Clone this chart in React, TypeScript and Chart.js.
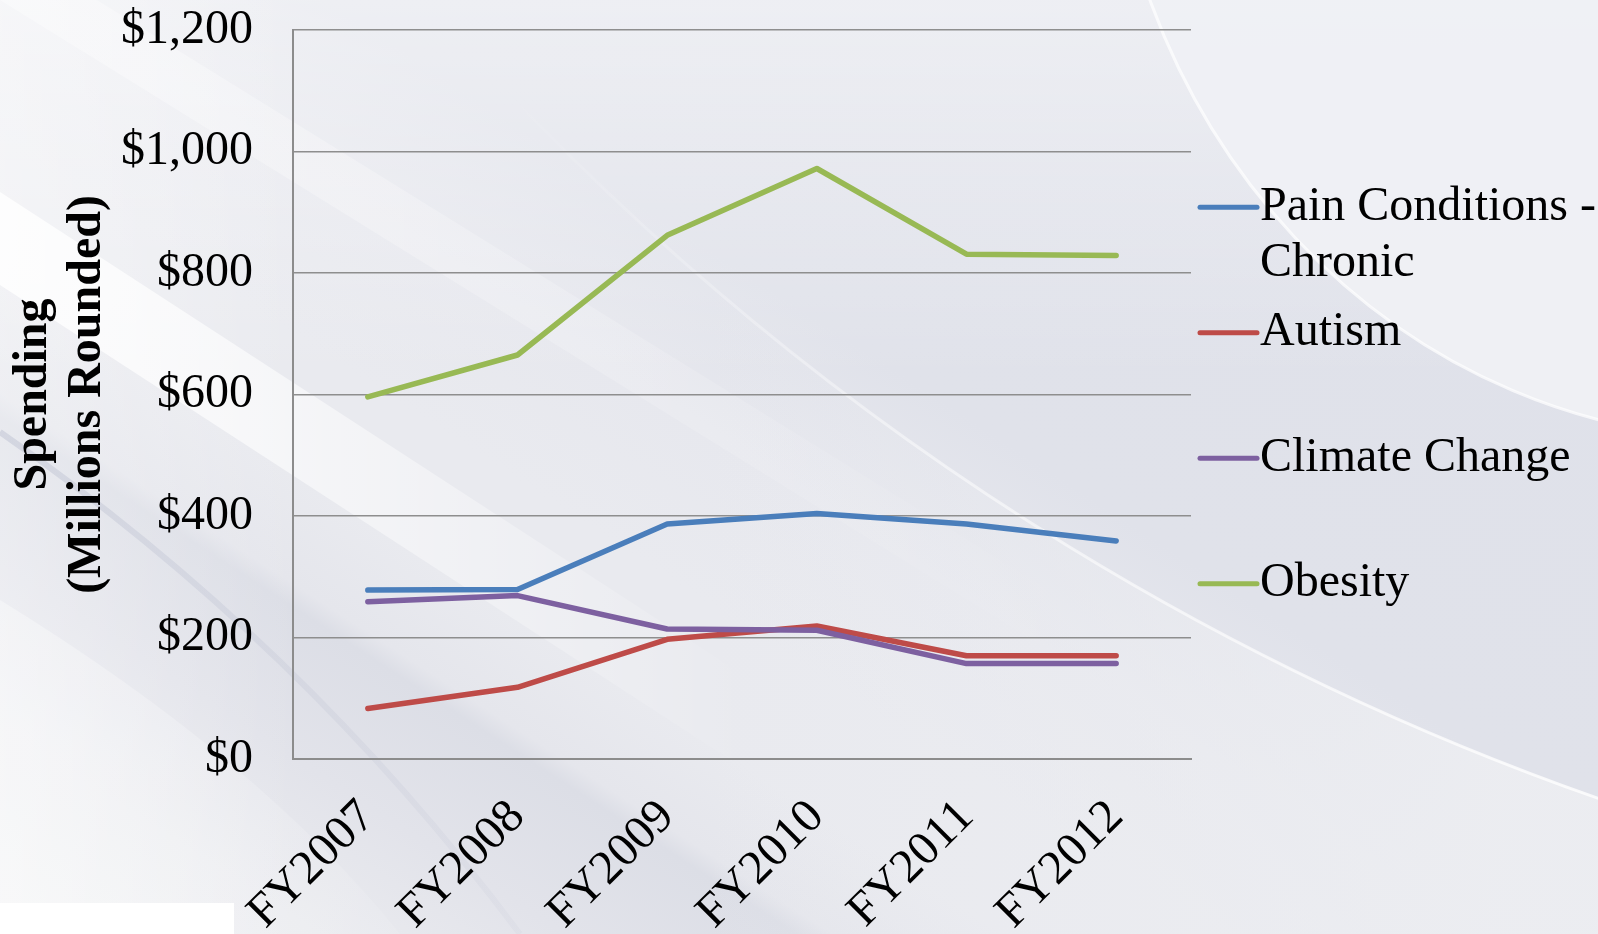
import React, { useEffect, useRef } from "react";
import { Chart, registerables } from "chart.js";

Chart.register(...registerables);

const categories = ["FY2007", "FY2008", "FY2009", "FY2010", "FY2011", "FY2012"];
const seriesNames = ["Pain Conditions - Chronic", "Autism", "Climate Change", "Obesity"];
const legendLines = [["Pain Conditions -", "Chronic"], ["Autism"], ["Climate Change"], ["Obesity"]];
const painChronic = [278, 279, 387, 404, 387, 359];
const autism = [83, 118, 197, 219, 170, 170];
const climateChange = [259, 269, 214, 212, 157, 157];
const obesity = [596, 665, 862, 972, 831, 829];
const seriesColors = ["#4a7ebb", "#be4b48", "#7d60a0", "#98b954"];
const yMin = 0;
const yMax = 1200;
const yStep = 200;
const yTitle = ["Spending", "(Millions Rounded)"];

const FONT = "'Liberation Serif', 'Times New Roman', serif";
const FS = 48;
const W = 1598;
const H = 934;

// decorative slide background, drawn under the chart
const slideBackground = {
  id: "slideBackground",
  beforeDraw(chart: any) {
    const ctx = chart.ctx as CanvasRenderingContext2D;
    ctx.save();
    const nx = 0.545, ny = 0.839, L = 1655;
    const g = ctx.createLinearGradient(0, H, nx * L, H - ny * L);
    g.addColorStop(0.0, "#eff0f2");
    g.addColorStop(0.105, "#eaebef");
    g.addColorStop(0.186, "#e2e3ea");
    g.addColorStop(0.262, "#dcdee6");
    g.addColorStop(0.274, "#e5e6ec");
    g.addColorStop(0.33, "#e9eaef");
    g.addColorStop(0.40, "#e9eaef");
    g.addColorStop(0.49, "#e7e8ee");
    g.addColorStop(0.58, "#e0e2ea");
    g.addColorStop(1.0, "#dfe1ea");
    ctx.fillStyle = g;
    ctx.fillRect(0, 0, W, H);

    const v = ctx.createLinearGradient(0, 0, 0, 380);
    v.addColorStop(0, "rgba(255,255,255,0.45)");
    v.addColorStop(1, "rgba(255,255,255,0)");
    ctx.fillStyle = v;
    ctx.fillRect(0, 0, W, 380);

    const hl = ctx.createLinearGradient(0, 0, 300, 0);
    hl.addColorStop(0, "rgba(255,255,255,0.35)");
    hl.addColorStop(1, "rgba(255,255,255,0)");
    ctx.fillStyle = hl;
    ctx.fillRect(0, 0, 300, H);

    const band = (y0: number, y1: number, slope: number, a0: number, fadeEnd: number) => {
      const fg = ctx.createLinearGradient(0, 0, fadeEnd, 0);
      fg.addColorStop(0, `rgba(255,255,255,${a0})`);
      fg.addColorStop(0.35, `rgba(255,255,255,${a0 * 0.7})`);
      fg.addColorStop(1, "rgba(255,255,255,0)");
      ctx.fillStyle = fg;
      ctx.beginPath();
      ctx.moveTo(0, y0);
      ctx.lineTo(fadeEnd, y0 + slope * fadeEnd);
      ctx.lineTo(fadeEnd, y1 + slope * fadeEnd);
      ctx.lineTo(0, y1);
      ctx.closePath();
      ctx.fill();
    };
    band(192, 285, 0.65, 0.85, 750);
    band(-60, 0, 0.62, 0.35, 1100);

    const dg = ctx.createLinearGradient(0, 0, 700, 0);
    dg.addColorStop(0, "rgba(190,194,210,0.5)");
    dg.addColorStop(1, "rgba(190,194,210,0)");
    ctx.strokeStyle = dg;
    ctx.lineWidth = 6;
    ctx.beginPath();
    ctx.moveTo(0, 432);
    ctx.quadraticCurveTo(300, 640, 520, H);
    ctx.stroke();

    const bl = ctx.createLinearGradient(0, 0, 520, 0);
    bl.addColorStop(0, "rgba(255,255,255,0.35)");
    bl.addColorStop(1, "rgba(255,255,255,0)");
    ctx.fillStyle = bl;
    ctx.beginPath();
    ctx.moveTo(0, 600);
    ctx.quadraticCurveTo(260, 760, 400, H);
    ctx.lineTo(0, H);
    ctx.closePath();
    ctx.fill();

    const cx = 2517, cy = -1816, r = 2771;
    ctx.save();
    ctx.beginPath();
    ctx.rect(0, 0, W, H);
    ctx.arc(cx, cy, r, 0, Math.PI * 2, true);
    ctx.clip("evenodd");
    const lr = ctx.createLinearGradient(700, 0, 1500, 0);
    lr.addColorStop(0, "rgba(236,237,241,0)");
    lr.addColorStop(1, "rgba(236,237,241,0.95)");
    ctx.fillStyle = lr;
    ctx.fillRect(700, 0, W - 700, H);
    ctx.restore();
    const arcG = ctx.createLinearGradient(500, 0, 1598, 0);
    arcG.addColorStop(0, "rgba(255,255,255,0)");
    arcG.addColorStop(0.4, "rgba(255,255,255,0.5)");
    arcG.addColorStop(1, "rgba(255,255,255,0.8)");
    ctx.strokeStyle = arcG;
    ctx.lineWidth = 3;
    ctx.beginPath();
    ctx.arc(cx, cy, r, Math.PI * 0.5, Math.PI * 0.85);
    ctx.stroke();

    ctx.fillStyle = "rgba(239,240,244,0.95)";
    ctx.beginPath();
    ctx.ellipse(1750, -250, 644, 689, 0, 0, Math.PI * 2);
    ctx.fill();
    ctx.strokeStyle = "rgba(255,255,255,0.7)";
    ctx.lineWidth = 3;
    ctx.stroke();

    ctx.fillStyle = "#ffffff";
    ctx.fillRect(0, 903, 234, 31);
    ctx.restore();
  },
};

const sideLegend = {
  id: "sideLegend",
  afterDraw(chart: any) {
    const { ctx, chartArea } = chart;
    const lineX0 = chartArea.right + 9;
    const lineX1 = lineX0 + 57;
    const textX = lineX1 + 3;
    const center = (chartArea.top + chartArea.bottom) / 2 + 1;
    const spacing = 125.5;
    const n = chart.data.datasets.length;
    ctx.save();
    ctx.font = `${FS}px ${FONT}`;
    ctx.textBaseline = "middle";
    ctx.textAlign = "left";
    chart.data.datasets.forEach((ds: any, i: number) => {
      const y = center + (i - (n - 1) / 2) * spacing;
      ctx.strokeStyle = ds.borderColor;
      ctx.lineWidth = 5;
      ctx.lineCap = "round";
      ctx.beginPath();
      ctx.moveTo(lineX0, y);
      ctx.lineTo(lineX1, y);
      ctx.stroke();
      ctx.fillStyle = "#000";
      legendLines[i].forEach((t, k) => ctx.fillText(t, textX, y + k * 56));
    });
    ctx.restore();
  },
};

export default function App() {
  const ref = useRef<HTMLCanvasElement | null>(null);
  useEffect(() => {
    if (!ref.current) return;
    const values = [painChronic, autism, climateChange, obesity];
    const chart = new Chart(ref.current, {
      type: "line",
      data: {
        labels: categories,
        datasets: seriesNames.map((name, i) => ({
          label: name,
          data: values[i],
          borderColor: seriesColors[i],
          backgroundColor: seriesColors[i],
          borderWidth: 5.5,
          pointRadius: 0,
          pointHoverRadius: 0,
          tension: 0,
          borderCapStyle: "round" as const,
          borderJoinStyle: "round" as const,
          order: seriesNames.length - i,
        })),
      },
      options: {
        responsive: false,
        animation: false,
        devicePixelRatio: 1,
        layout: { padding: { top: 30, right: 407, left: 0, bottom: 0 } },
        plugins: {
          legend: { display: false },
          tooltip: { enabled: false },
        },
        scales: {
          x: {
            type: "category",
            offset: true,
            grid: { display: true, drawOnChartArea: false, drawTicks: false },
            border: { display: true, color: "#8c8c8c", width: 2 },
            ticks: {
              color: "#000",
              font: { family: FONT, size: FS },
              minRotation: 45,
              maxRotation: 45,
              padding: 30,
              autoSkip: false,
            },
            afterFit: (scale: any) => {
              scale.height = 175;
              scale.paddingTop = 0;
              scale.paddingBottom = 0;
              scale.paddingLeft = 0;
              scale.paddingRight = 0;
            },
          },
          y: {
            min: yMin,
            max: yMax,
            grid: { color: "#8e8e8e", lineWidth: 1.5, drawTicks: false },
            border: { display: true, color: "#8c8c8c", width: 2 },
            ticks: {
              stepSize: yStep,
              color: "#000",
              padding: 40,
              font: { family: FONT, size: FS },
              callback: (v: any) => "$" + Number(v).toLocaleString("en-US"),
            },
            title: {
              display: true,
              text: yTitle,
              color: "#000",
              font: { family: FONT, size: FS, weight: "bold", lineHeight: 1.13 },
              padding: { top: 6, bottom: 0 },
            },
            afterFit: (scale: any) => {
              scale.width = 293;
              scale.paddingTop = 0;
              scale.paddingBottom = 0;
            },
          },
        },
      },
      plugins: [slideBackground, sideLegend],
    });
    return () => chart.destroy();
  }, []);

  return (
    <div style={{ position: "fixed", left: 0, top: 0, width: W, height: H, overflow: "hidden", background: "#dfe1ea" }}>
      <canvas ref={ref} width={W} height={H} style={{ position: "absolute", left: 0, top: 0, width: W, height: H }} />
    </div>
  );
}
